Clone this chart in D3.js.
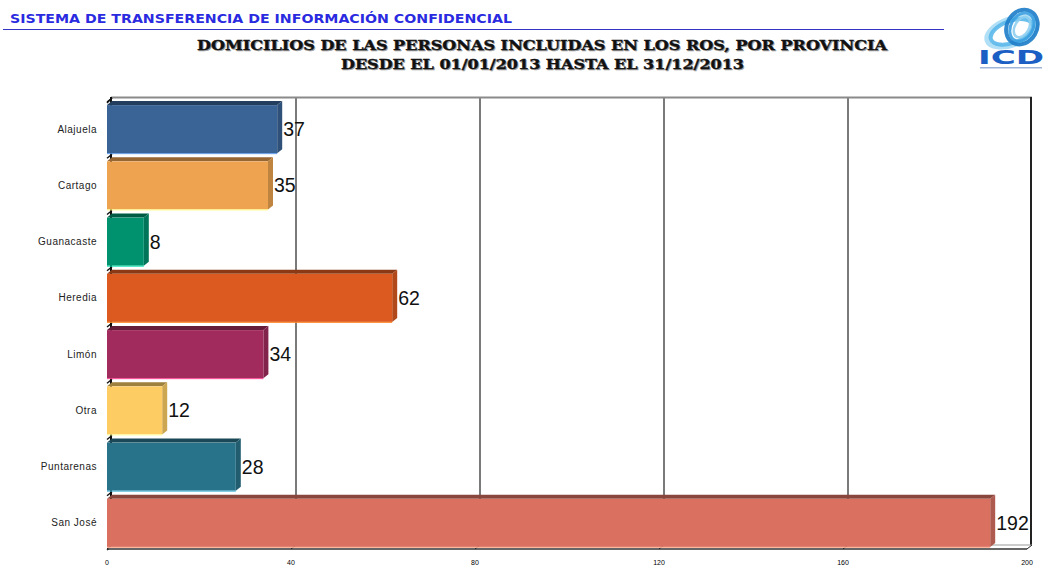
<!DOCTYPE html>
<html>
<head>
<meta charset="utf-8">
<script src="https://cdn.jsdelivr.net/npm/d3@7"></script>
<style>
  html, body { margin: 0; padding: 0; background: #ffffff; }
  svg { display: block; }
</style>
</head>
<body>
<svg id="chart" width="1049" height="565"></svg>
<script>
// Provinces and the number of registered addresses in each
const provinces = ["Alajuela", "Cartago", "Guanacaste", "Heredia", "Limón", "Otra", "Puntarenas", "San José"];
const counts = [37, 35, 8, 62, 34, 12, 28, 192];
const barColors = ["#3a6496", "#eea351", "#00916e", "#dc5a20", "#a12b5d", "#fdcd63", "#29738a", "#d97060"];
const xTicks = [0, 40, 80, 120, 160, 200];

const headerText = "SISTEMA DE TRANSFERENCIA DE INFORMACIÓN CONFIDENCIAL";
const titleLines = ["DOMICILIOS DE LAS PERSONAS INCLUIDAS EN LOS ROS, POR PROVINCIA",
                    "DESDE EL 01/01/2013 HASTA EL 31/12/2013"];

const svg = d3.select("#chart");

// ---- page header ----
svg.append("text")
  .attr("x", 10).attr("y", 23)
  .attr("font-family", "DejaVu Sans, Verdana, sans-serif")
  .attr("font-weight", "bold").attr("font-size", 13)
  .attr("textLength", 502).attr("lengthAdjust", "spacingAndGlyphs")
  .attr("fill", "#2a2ae0")
  .text(headerText);
svg.append("line")
  .attr("x1", 3).attr("x2", 944).attr("y1", 29.5).attr("y2", 29.5)
  .attr("stroke", "#3434c4").attr("stroke-width", 1);

// ---- chart title (with a light drop shadow) ----
const titleSpecs = [{ x: 197, y: 50, w: 690 }, { x: 341, y: 69, w: 403 }];
titleLines.forEach((t, i) => {
  const s = titleSpecs[i];
  [["#a0a0a0", 1], ["#111111", 0]].forEach(([fill, off]) => {
    svg.append("text")
      .attr("x", s.x + off).attr("y", s.y + off)
      .attr("font-family", "DejaVu Serif, Liberation Serif, serif")
      .attr("font-weight", "bold").attr("font-size", 13)
      .attr("textLength", s.w).attr("lengthAdjust", "spacingAndGlyphs")
      .attr("fill", fill)
      .attr("stroke", fill).attr("stroke-width", 0.35)
      .text(t);
  });
});

// ---- logo ----
const logo = svg.append("g").attr("transform", "translate(1011,30)");
[
  { rx: 26, ry: 13, rot: -20, c: "#a9dcf4", w: 5 },
  { rx: 22, ry: 11, rot: -20, c: "#5bb8ea", w: 4 },
  { rx: 15, ry: 18, rot: 30, c: "#1d7cc8", w: 4 },
  { rx: 11, ry: 15, rot: 30, c: "#3a9ee0", w: 3 },
  { rx: 7, ry: 11, rot: 30, c: "#8fcff0", w: 2.5 }
].forEach(e => {
  logo.append("ellipse")
    .attr("cx", e.rot > 0 ? 8 : 0).attr("cy", e.rot > 0 ? -8 : 2)
    .attr("rx", e.rx).attr("ry", e.ry)
    .attr("transform", `rotate(${e.rot})`)
    .attr("fill", "none").attr("stroke", e.c).attr("stroke-width", e.w)
    .attr("opacity", 0.9);
});
svg.append("text")
  .attr("x", 1011).attr("y", 64)
  .attr("text-anchor", "middle")
  .attr("font-family", "DejaVu Sans, Arial, sans-serif")
  .attr("font-weight", "bold").attr("font-size", 20)
  .attr("textLength", 66).attr("lengthAdjust", "spacingAndGlyphs")
  .attr("fill", "#1c5fc4")
  .text("ICD");
svg.append("rect")
  .attr("x", 980).attr("y", 67).attr("width", 62).attr("height", 1.5)
  .attr("fill", "#9fb6d8");

// ---- plot geometry ----
const depthX = 5, depthY = 4;        // 3-D offset of the back plane
const x = d3.scaleLinear().domain([0, 200]).range([107, 1027]);
const y = d3.scaleBand().domain(provinces)
  .range([101, 551]).paddingInner(0.146).paddingOuter(0.073);
const plotTop = 97, floorY = 549;

const frame = svg.append("g");

// back wall grid lines
frame.selectAll("line.grid")
  .data(xTicks.slice(1, -1))
  .join("line")
  .attr("class", "grid")
  .attr("x1", d => x(d) + depthX).attr("x2", d => x(d) + depthX)
  .attr("y1", plotTop).attr("y2", floorY - depthY)
  .attr("stroke", "#7a7a7a").attr("stroke-width", 2);

// top and right edges of the back wall
frame.append("line")
  .attr("x1", x(0) + depthX - 1).attr("x2", x(200) + depthX)
  .attr("y1", plotTop + 0.5).attr("y2", plotTop + 0.5)
  .attr("stroke", "#8a8a8a").attr("stroke-width", 2);
frame.append("line")
  .attr("x1", x(200) + depthX - 1).attr("x2", x(200) + depthX - 1)
  .attr("y1", plotTop).attr("y2", floorY - depthY)
  .attr("stroke", "#222").attr("stroke-width", 2);

// left wall
frame.append("line")
  .attr("x1", x(0) + 4).attr("x2", x(0) + 4)
  .attr("y1", plotTop).attr("y2", floorY - depthY)
  .attr("stroke", "#111").attr("stroke-width", 2);
const boundaries = provinces.map(p => y(p) - (y.step() - y.bandwidth()) / 2).concat([y.range()[1] - 2]);
frame.selectAll("line.ltick")
  .data(boundaries)
  .join("line")
  .attr("class", "ltick")
  .attr("x1", x(0)).attr("x2", x(0) + depthX)
  .attr("y1", d => d + 1).attr("y2", d => d - 3)
  .attr("stroke", "#111").attr("stroke-width", 1.5);
frame.append("line")
  .attr("x1", x(0)).attr("x2", x(0) + depthX)
  .attr("y1", plotTop + 6).attr("y2", plotTop + 1)
  .attr("stroke", "#111").attr("stroke-width", 1.5);

// floor
frame.append("path")
  .attr("d", `M${x(0)},${floorY} L${x(200)},${floorY} L${x(200) + depthX},${floorY - depthY} L${x(0) + depthX},${floorY - depthY} Z`)
  .attr("fill", "#ffffff").attr("stroke", "none");
frame.append("line")
  .attr("x1", x(0)).attr("x2", x(200))
  .attr("y1", floorY).attr("y2", floorY)
  .attr("stroke", "#333").attr("stroke-width", 1.5);
frame.append("line")
  .attr("x1", x(0) + depthX).attr("x2", x(200) + depthX)
  .attr("y1", floorY - depthY).attr("y2", floorY - depthY)
  .attr("stroke", "#999").attr("stroke-width", 1);
frame.selectAll("line.xtick")
  .data(xTicks)
  .join("line")
  .attr("class", "xtick")
  .attr("x1", d => x(d)).attr("x2", d => x(d) + depthX)
  .attr("y1", floorY).attr("y2", floorY - depthY)
  .attr("stroke", "#222").attr("stroke-width", 1);

// x tick labels
svg.selectAll("text.xlab")
  .data(xTicks)
  .join("text")
  .attr("class", "xlab")
  .attr("x", d => x(d)).attr("y", 565)
  .attr("text-anchor", "middle")
  .attr("font-family", "Liberation Sans, Arial, sans-serif")
  .attr("font-size", 7).attr("fill", "#000")
  .text(d => d);

// y category labels
svg.selectAll("text.ylab")
  .data(provinces)
  .join("text")
  .attr("class", "ylab")
  .attr("x", 97).attr("y", d => y(d) + y.bandwidth() / 2 + 3.5)
  .attr("text-anchor", "end")
  .attr("font-family", "Liberation Sans, Arial, sans-serif")
  .attr("font-size", 10).attr("letter-spacing", 0.5).attr("fill", "#222")
  .text(d => d);

// ---- 3-D bars ----
const rows = provinces.map((p, i) => ({ p, v: counts[i], c: barColors[i] }));
const bars = svg.selectAll("g.bar").data(rows).join("g").attr("class", "bar");

bars.append("path") // top face
  .attr("d", d => {
    const x0 = x(0), x1 = x(d.v), t = y(d.p);
    return `M${x0},${t} L${x1},${t} L${x1 + depthX},${t - depthY} L${x0 + depthX},${t - depthY} Z`;
  })
  .attr("fill", d => d3.color(d.c).darker(1.3));

bars.append("path") // right face
  .attr("d", d => {
    const x1 = x(d.v), t = y(d.p), b = y(d.p) + y.bandwidth();
    return `M${x1},${t} L${x1 + depthX},${t - depthY} L${x1 + depthX},${b - depthY} L${x1},${b} Z`;
  })
  .attr("fill", d => d3.color(d.c).darker(0.6));

bars.append("rect") // front face
  .attr("x", x(0))
  .attr("y", d => y(d.p))
  .attr("width", d => x(d.v) - x(0))
  .attr("height", y.bandwidth())
  .attr("fill", d => d.c);

bars.append("line") // light lower edge
  .attr("x1", x(0)).attr("x2", d => x(d.v))
  .attr("y1", d => y(d.p) + y.bandwidth() + 0.5)
  .attr("y2", d => y(d.p) + y.bandwidth() + 0.5)
  .attr("stroke", d => d3.color(d.c).brighter(1.2)).attr("stroke-width", 1);

// value labels
svg.selectAll("text.val")
  .data(rows)
  .join("text")
  .attr("class", "val")
  .attr("x", d => x(d.v) + depthX + 1)
  .attr("y", d => y(d.p) + y.bandwidth() / 2 + 7)
  .attr("font-family", "Liberation Sans, Arial, sans-serif")
  .attr("font-size", 19.5).attr("fill", "#111")
  .text(d => d.v);
</script>
</body>
</html>
